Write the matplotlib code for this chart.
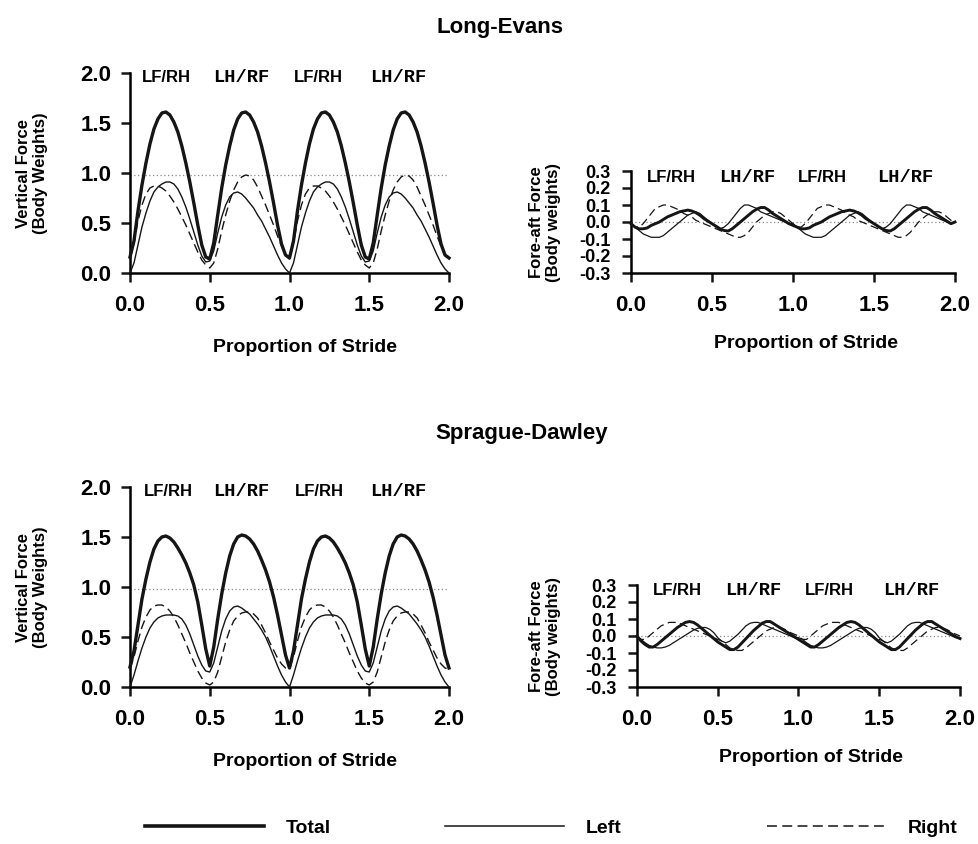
import numpy as np
import matplotlib.pyplot as plt

plt.rcParams['font.family'] = ['Liberation Sans', 'DejaVu Sans']
plt.rcParams['axes.unicode_minus'] = False

# proportion of stride, sampled every 0.025 over two strides
stride = np.linspace(0, 2, 81)

x_ticks = [0.0, 0.5, 1.0, 1.5, 2.0]
x_ticklabels = ['0.0', '0.5', '1.0', '1.5', '2.0']
vert_ticks = [0.0, 0.5, 1.0, 1.5, 2.0]
vert_ticklabels = ['0.0', '0.5', '1.0', '1.5', '2.0']
fa_ticks = [-0.3, -0.2, -0.1, 0.0, 0.1, 0.2, 0.3]
fa_ticklabels = ['-0.3', '-0.2', '-0.1', '0.0', '0.1', '0.2', '0.3']
phase_labels = ['LF/RH', 'LH/RF', 'LF/RH', 'LH/RF']

# Long-Evans, vertical force (body weights)
le_vert_total = [
    0.16, 0.32, 0.62, 0.88, 1.10, 1.29, 1.44, 1.54, 1.60, 1.61, 1.58, 1.51, 1.41, 1.27, 1.10, 0.91, 0.70, 0.48, 0.28, 0.16,
    0.14, 0.30, 0.58, 0.85, 1.08, 1.27, 1.43, 1.54, 1.60, 1.61, 1.58, 1.51, 1.41, 1.27, 1.10, 0.91, 0.70, 0.48, 0.29, 0.18,
    0.15, 0.32, 0.62, 0.88, 1.10, 1.29, 1.44, 1.54, 1.60, 1.61, 1.58, 1.51, 1.41, 1.27, 1.10, 0.91, 0.70, 0.48, 0.28, 0.16,
    0.14, 0.30, 0.58, 0.85, 1.08, 1.27, 1.43, 1.54, 1.60, 1.61, 1.58, 1.51, 1.41, 1.27, 1.10, 0.91, 0.70, 0.48, 0.29, 0.18,
    0.15]
le_vert_left = [
    0.00, 0.10, 0.28, 0.46, 0.60, 0.72, 0.81, 0.86, 0.89, 0.91, 0.91, 0.89, 0.84, 0.76, 0.66, 0.54, 0.41, 0.28, 0.17, 0.11,
    0.12, 0.22, 0.40, 0.56, 0.68, 0.76, 0.80, 0.81, 0.79, 0.75, 0.70, 0.65, 0.58, 0.52, 0.44, 0.36, 0.27, 0.18, 0.10, 0.04,
    0.00, 0.10, 0.28, 0.46, 0.60, 0.72, 0.81, 0.86, 0.89, 0.91, 0.91, 0.89, 0.84, 0.76, 0.66, 0.54, 0.41, 0.28, 0.17, 0.11,
    0.12, 0.22, 0.40, 0.56, 0.68, 0.76, 0.80, 0.81, 0.79, 0.75, 0.70, 0.65, 0.58, 0.52, 0.44, 0.36, 0.27, 0.18, 0.10, 0.04,
    0.00]
le_vert_right = [
    0.14, 0.30, 0.52, 0.68, 0.79, 0.85, 0.87, 0.87, 0.85, 0.82, 0.77, 0.71, 0.64, 0.56, 0.48, 0.39, 0.30, 0.21, 0.13, 0.08,
    0.05, 0.10, 0.24, 0.42, 0.58, 0.72, 0.83, 0.91, 0.96, 0.98, 0.97, 0.93, 0.86, 0.77, 0.68, 0.58, 0.48, 0.37, 0.27, 0.18,
    0.14, 0.30, 0.52, 0.68, 0.79, 0.85, 0.87, 0.87, 0.85, 0.82, 0.77, 0.71, 0.64, 0.56, 0.48, 0.39, 0.30, 0.21, 0.13, 0.08,
    0.05, 0.10, 0.24, 0.42, 0.58, 0.72, 0.83, 0.91, 0.96, 0.98, 0.97, 0.93, 0.86, 0.77, 0.68, 0.58, 0.48, 0.37, 0.27, 0.18,
    0.14]

# Long-Evans, fore-aft force (body weights)
le_fa_total = [
    -0.01, -0.03, -0.04, -0.04, -0.035, -0.02, -0.01, 0.00, 0.015, 0.03, 0.04, 0.05, 0.06, 0.065, 0.07, 0.065, 0.055, 0.04, 0.02, 0.005,
    -0.01, -0.025, -0.04, -0.05, -0.053, -0.04, -0.02, 0.00, 0.02, 0.04, 0.06, 0.075, 0.085, 0.085, 0.07, 0.05, 0.035, 0.02, 0.005, -0.01,
    -0.02, -0.03, -0.04, -0.04, -0.035, -0.02, -0.01, 0.00, 0.015, 0.03, 0.04, 0.05, 0.06, 0.065, 0.07, 0.065, 0.055, 0.04, 0.02, 0.005,
    -0.01, -0.025, -0.04, -0.05, -0.053, -0.04, -0.02, 0.00, 0.02, 0.04, 0.06, 0.075, 0.085, 0.085, 0.07, 0.05, 0.035, 0.02, 0.005, -0.01,
    0.00]
le_fa_left = [
    -0.01, -0.03, -0.05, -0.07, -0.08, -0.09, -0.09, -0.09, -0.08, -0.06, -0.04, -0.02, 0.00, 0.02, 0.04, 0.05, 0.06, 0.05, 0.03, 0.01,
    -0.01, -0.03, -0.04, -0.03, -0.01, 0.02, 0.05, 0.08, 0.10, 0.10, 0.09, 0.08, 0.06, 0.05, 0.04, 0.03, 0.02, 0.01, 0.00, -0.01,
    -0.01, -0.03, -0.05, -0.07, -0.08, -0.09, -0.09, -0.09, -0.08, -0.06, -0.04, -0.02, 0.00, 0.02, 0.04, 0.05, 0.06, 0.05, 0.03, 0.01,
    -0.01, -0.03, -0.04, -0.03, -0.01, 0.02, 0.05, 0.08, 0.10, 0.10, 0.09, 0.08, 0.06, 0.05, 0.04, 0.03, 0.02, 0.01, 0.00, -0.01,
    0.00]
le_fa_right = [
    -0.01, -0.03, -0.03, -0.01, 0.02, 0.05, 0.08, 0.09, 0.10, 0.10, 0.09, 0.08, 0.07, 0.05, 0.04, 0.03, 0.01, 0.00, -0.01, -0.02,
    -0.03, -0.04, -0.05, -0.06, -0.07, -0.08, -0.09, -0.09, -0.08, -0.06, -0.03, 0.00, 0.02, 0.04, 0.05, 0.06, 0.06, 0.05, 0.03, 0.01,
    -0.01, -0.03, -0.03, -0.01, 0.02, 0.05, 0.08, 0.09, 0.10, 0.10, 0.09, 0.08, 0.07, 0.05, 0.04, 0.03, 0.01, 0.00, -0.01, -0.02,
    -0.03, -0.04, -0.05, -0.06, -0.07, -0.08, -0.09, -0.09, -0.08, -0.06, -0.03, 0.00, 0.02, 0.04, 0.05, 0.06, 0.06, 0.05, 0.03, 0.01,
    0.00]

# Sprague-Dawley, vertical force (body weights)
sd_vert_total = [
    0.20, 0.36, 0.62, 0.88, 1.08, 1.25, 1.38, 1.46, 1.50, 1.51, 1.49, 1.45, 1.39, 1.32, 1.24, 1.14, 1.02, 0.85, 0.62, 0.38,
    0.21, 0.40, 0.68, 0.93, 1.14, 1.31, 1.43, 1.50, 1.52, 1.51, 1.48, 1.43, 1.36, 1.27, 1.17, 1.05, 0.90, 0.72, 0.52, 0.32,
    0.19, 0.36, 0.62, 0.88, 1.08, 1.25, 1.38, 1.46, 1.50, 1.51, 1.49, 1.45, 1.39, 1.32, 1.24, 1.14, 1.02, 0.85, 0.62, 0.38,
    0.21, 0.40, 0.68, 0.93, 1.14, 1.31, 1.43, 1.50, 1.52, 1.51, 1.48, 1.43, 1.36, 1.27, 1.17, 1.05, 0.90, 0.72, 0.52, 0.32,
    0.19]
sd_vert_left = [
    0.00, 0.12, 0.26, 0.39, 0.50, 0.59, 0.65, 0.69, 0.71, 0.72, 0.72, 0.72, 0.71, 0.68, 0.62, 0.53, 0.42, 0.31, 0.22, 0.16,
    0.15, 0.24, 0.40, 0.56, 0.68, 0.76, 0.80, 0.81, 0.79, 0.76, 0.73, 0.68, 0.63, 0.57, 0.50, 0.41, 0.31, 0.21, 0.12, 0.05,
    0.00, 0.12, 0.26, 0.39, 0.50, 0.59, 0.65, 0.69, 0.71, 0.72, 0.72, 0.72, 0.71, 0.68, 0.62, 0.53, 0.42, 0.31, 0.22, 0.16,
    0.15, 0.24, 0.40, 0.56, 0.68, 0.76, 0.80, 0.81, 0.79, 0.76, 0.73, 0.68, 0.63, 0.57, 0.50, 0.41, 0.31, 0.21, 0.12, 0.05,
    0.00]
sd_vert_right = [
    0.18, 0.30, 0.46, 0.60, 0.70, 0.77, 0.81, 0.82, 0.82, 0.80, 0.76, 0.70, 0.62, 0.53, 0.44, 0.34, 0.25, 0.16, 0.09, 0.04,
    0.02, 0.05, 0.15, 0.30, 0.45, 0.57, 0.66, 0.71, 0.74, 0.75, 0.75, 0.73, 0.69, 0.62, 0.54, 0.45, 0.37, 0.29, 0.23, 0.19,
    0.18, 0.30, 0.46, 0.60, 0.70, 0.77, 0.81, 0.82, 0.82, 0.80, 0.76, 0.70, 0.62, 0.53, 0.44, 0.34, 0.25, 0.16, 0.09, 0.04,
    0.02, 0.05, 0.15, 0.30, 0.45, 0.57, 0.66, 0.71, 0.74, 0.75, 0.75, 0.73, 0.69, 0.62, 0.54, 0.45, 0.37, 0.29, 0.23, 0.19,
    0.18]

# Sprague-Dawley, fore-aft force (body weights)
sd_fa_total = [
    0.00, -0.03, -0.05, -0.065, -0.065, -0.05, -0.03, -0.01, 0.01, 0.03, 0.05, 0.065, 0.08, 0.085, 0.08, 0.065, 0.045, 0.025, 0.005, -0.015,
    -0.035, -0.05, -0.065, -0.08, -0.08, -0.065, -0.04, -0.015, 0.01, 0.035, 0.055, 0.075, 0.085, 0.085, 0.07, 0.055, 0.04, 0.025, 0.01, -0.005,
    -0.02, -0.035, -0.05, -0.065, -0.065, -0.05, -0.03, -0.01, 0.01, 0.03, 0.05, 0.065, 0.08, 0.085, 0.08, 0.065, 0.045, 0.025, 0.005, -0.015,
    -0.035, -0.05, -0.065, -0.08, -0.08, -0.065, -0.04, -0.015, 0.01, 0.035, 0.055, 0.075, 0.085, 0.085, 0.07, 0.055, 0.04, 0.025, 0.01, -0.005,
    -0.015]
sd_fa_left = [
    0.00, -0.02, -0.04, -0.055, -0.065, -0.07, -0.07, -0.065, -0.055, -0.04, -0.025, -0.01, 0.005, 0.02, 0.035, 0.045, 0.05, 0.05, 0.04, 0.02,
    -0.01, -0.03, -0.04, -0.03, -0.01, 0.01, 0.035, 0.06, 0.075, 0.08, 0.08, 0.07, 0.06, 0.05, 0.04, 0.03, 0.02, 0.01, 0.00, -0.01,
    -0.01, -0.02, -0.04, -0.055, -0.065, -0.07, -0.07, -0.065, -0.055, -0.04, -0.025, -0.01, 0.005, 0.02, 0.035, 0.045, 0.05, 0.05, 0.04, 0.02,
    -0.01, -0.03, -0.04, -0.03, -0.01, 0.01, 0.035, 0.06, 0.075, 0.08, 0.08, 0.07, 0.06, 0.05, 0.04, 0.03, 0.02, 0.01, 0.00, -0.01,
    -0.01]
sd_fa_right = [
    0.00, -0.02, -0.02, 0.00, 0.02, 0.04, 0.06, 0.07, 0.08, 0.08, 0.08, 0.07, 0.06, 0.05, 0.04, 0.03, 0.02, 0.01, 0.00, -0.01,
    -0.02, -0.03, -0.05, -0.07, -0.08, -0.085, -0.085, -0.07, -0.05, -0.03, -0.01, 0.01, 0.03, 0.04, 0.05, 0.05, 0.045, 0.035, 0.02, 0.01,
    0.00, -0.02, -0.02, 0.00, 0.02, 0.04, 0.06, 0.07, 0.08, 0.08, 0.08, 0.07, 0.06, 0.05, 0.04, 0.03, 0.02, 0.01, 0.00, -0.01,
    -0.02, -0.03, -0.05, -0.07, -0.08, -0.085, -0.085, -0.07, -0.05, -0.03, -0.01, 0.01, 0.03, 0.04, 0.05, 0.05, 0.045, 0.035, 0.02, 0.01,
    0.00]

W, H = 979, 844
INK = '#151515'
DASH = (0, (6.5, 3.5))

fig = plt.figure(figsize=(W / 100, H / 100), dpi=100)


def add_axes_px(x0, x1, ytop, ybot):
    return fig.add_axes([x0 / W, 1 - ybot / H, (x1 - x0) / W, (ybot - ytop) / H])


def style_axes(ax, yticks, yticklabels, ysize, ypad):
    ax.spines['top'].set_visible(False)
    ax.spines['right'].set_visible(False)
    ax.spines['left'].set_linewidth(1.8)
    ax.spines['bottom'].set_linewidth(1.8)
    ax.set_xlim(0, 2)
    ax.set_ylim(yticks[0], yticks[-1])
    ax.set_xticks(x_ticks)
    ax.set_xticklabels(x_ticklabels, fontsize=16, fontweight='bold')
    ax.set_yticks(yticks)
    ax.set_yticklabels(yticklabels, fontsize=ysize, fontweight='bold')
    ax.tick_params(axis='both', direction='out', length=6.5, width=1.8, color=INK)
    ax.tick_params(axis='x', pad=9)
    ax.tick_params(axis='y', pad=ypad)
    ax.patch.set_alpha(0)


def draw_curves(ax, total, left, right, thick, thin):
    ax.plot(stride, total, color=INK, lw=thick, clip_on=False, zorder=4)
    ax.plot(stride, left, color=INK, lw=thin, clip_on=False, zorder=3)
    ax.plot(stride, right, color=INK, lw=thin, ls=DASH, clip_on=False, zorder=3)


def put_phases(ax, xs, y):
    for xpos, lab in zip(xs, phase_labels):
        if lab == 'LH/RF':
            ax.text(xpos, y, lab, ha='center', va='center', fontsize=13.5,
                    fontweight='bold', family='Liberation Mono')
        else:
            ax.text(xpos, y, lab, ha='center', va='center', fontsize=12,
                    fontweight='bold')


panels = [
    # (x0, x1, ytop, ybot, kind, data, phase x, phase y)
    (130, 449, 73, 273, 'vert', (le_vert_total, le_vert_left, le_vert_right), [0.225, 0.70, 1.18, 1.68], 1.95),
    (631, 955, 171, 273, 'fa', (le_fa_total, le_fa_left, le_fa_right), [0.247, 0.716, 1.18, 1.69], 0.26),
    (130, 449, 487, 687, 'vert', (sd_vert_total, sd_vert_left, sd_vert_right), [0.24, 0.70, 1.19, 1.68], 1.96),
    (637, 960, 585, 687, 'fa', (sd_fa_total, sd_fa_left, sd_fa_right), [0.25, 0.72, 1.19, 1.70], 0.265),
]

for x0, x1, ytop, ybot, kind, data, px, py in panels:
    ax = add_axes_px(x0, x1, ytop, ybot)
    if kind == 'vert':
        style_axes(ax, vert_ticks, vert_ticklabels, 16, 7)
        ax.axhline(0.98, color='#8a8a8a', lw=0.9, ls=(0, (1, 2)), zorder=1)
        draw_curves(ax, *data, thick=2.4, thin=1.0)
        fig.text(32 / W, 1 - (ytop + ybot) / 2 / H, 'Vertical Force\n(Body Weights)',
                 rotation=90, ha='center', va='center', fontsize=12,
                 fontweight='bold', linespacing=1.15)
        fig.text(305 / W, 1 - (ybot + 74) / H, 'Proportion of Stride',
                 ha='center', va='center', fontsize=14, fontweight='bold')
    else:
        style_axes(ax, fa_ticks, fa_ticklabels, 13, 8.5)
        ax.axhline(0.0, color='#8a8a8a', lw=0.9, ls=(0, (1, 2)), zorder=1)
        draw_curves(ax, *data, thick=2.1, thin=0.9)
        fig.text(545 / W, 1 - (ytop + ybot) / 2 / H, 'Fore-aft Force\n(Body weights)',
                 rotation=90, ha='center', va='center', fontsize=12,
                 fontweight='bold', linespacing=1.15)
        fig.text((x0 + x1) / 2 / W + 13 / W, 1 - (ybot + 71) / H, 'Proportion of Stride',
                 ha='center', va='center', fontsize=14, fontweight='bold')
    put_phases(ax, px, py)

fig.text(500 / W, 1 - 27 / H, 'Long-Evans', ha='center', va='center',
         fontsize=16, fontweight='bold')
fig.text(522 / W, 1 - 433 / H, 'Sprague-Dawley', ha='center', va='center',
         fontsize=16, fontweight='bold')

# legend row along the bottom
legend_items = [
    ('Total', dict(color=INK, lw=2.6), 145),
    ('Left', dict(color=INK, lw=1.1), 445),
    ('Right', dict(color=INK, lw=1.1, ls=DASH), 767),
]
for lab, kw, xstart in legend_items:
    handle = plt.Line2D([], [], **kw)
    fig.legend([handle], [lab], loc='center left',
               bbox_to_anchor=(xstart / W, 1 - 828 / H), frameon=False,
               handlelength=6.1, handletextpad=1.15, borderpad=0,
               borderaxespad=0, prop={'size': 14, 'weight': 'bold'})

fig.savefig('out.png', dpi=100)
